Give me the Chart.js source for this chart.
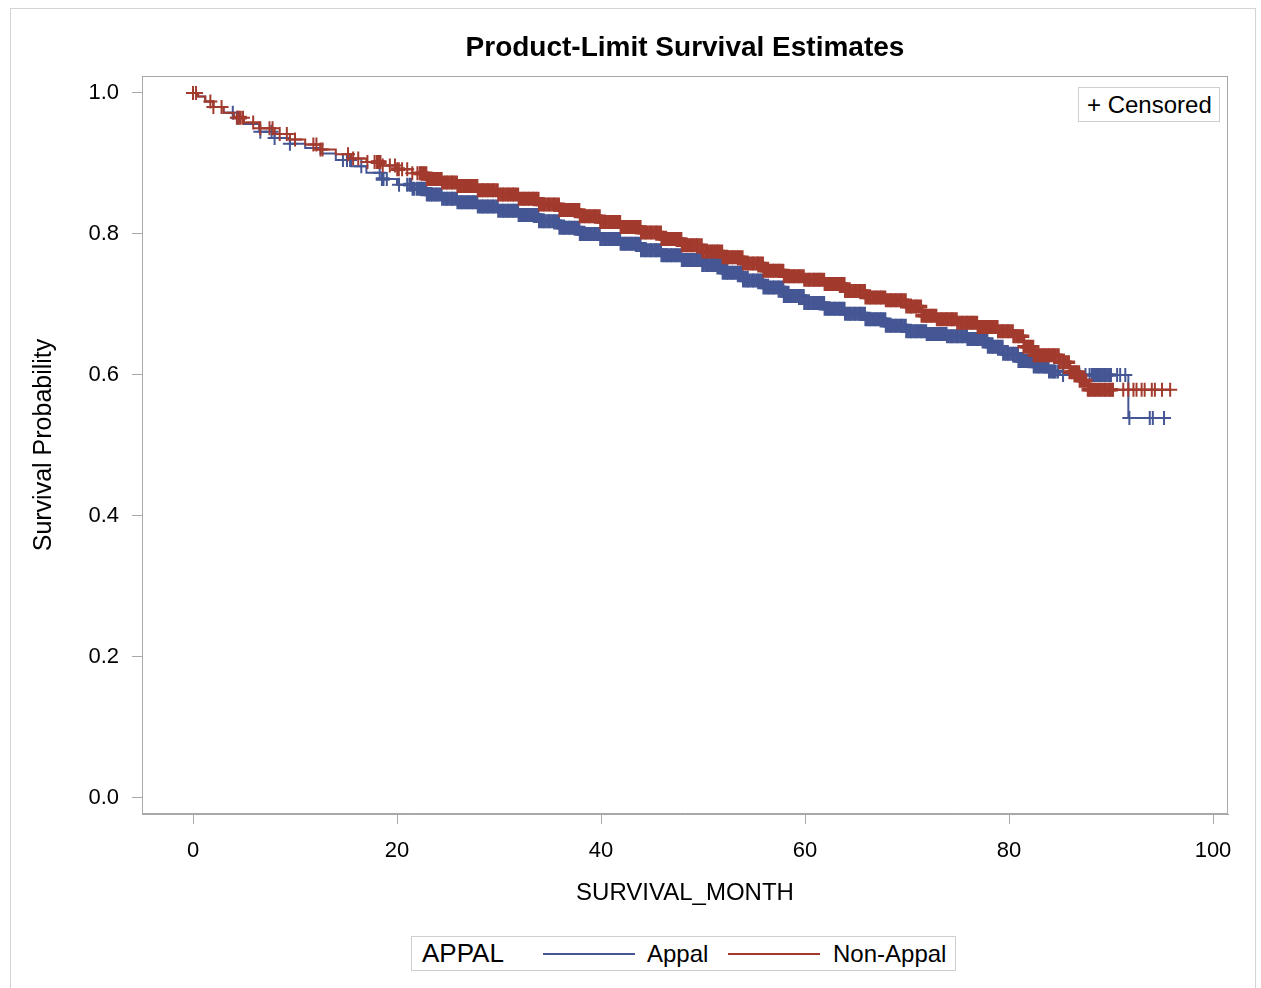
<!DOCTYPE html>
<html><head><meta charset="utf-8">
<script src="https://cdn.jsdelivr.net/npm/chart.js@4.4.1/dist/chart.umd.min.js"></script>
<style>
html,body{margin:0;padding:0;background:#fff;}
#wrap{position:relative;width:1261px;height:988px;overflow:hidden;font-family:"Liberation Sans",Arial,sans-serif;color:#000;}
#frame{position:absolute;left:10px;top:8px;width:1246px;height:1000px;border:1px solid #d4d4d4;box-sizing:border-box;}
canvas{position:absolute;left:0;top:0;}
#title{position:absolute;left:385px;width:600px;top:30px;text-align:center;font-weight:bold;font-size:28px;line-height:34px;}
.box{position:absolute;background:#fff;border:1px solid #cfcfcf;box-sizing:border-box;white-space:nowrap;}
#cens{left:1078px;top:87px;width:142px;height:35px;font-size:24px;line-height:33px;padding-left:8px;}
#leg{left:411px;top:936px;width:545px;height:35px;font-size:24px;line-height:33px;}
.li{position:absolute;top:0;}
.ln{position:absolute;top:16px;height:2px;}
</style></head><body>
<div id="wrap">
<div id="frame"></div>
<canvas id="c" width="1261" height="988"></canvas>
<div id="title">Product-Limit Survival Estimates</div>
<div class="box" id="cens">+ Censored</div>
<div class="box" id="leg"><span class="li" style="left:10px;font-size:26px">APPAL</span><span class="ln" style="left:131px;width:92px;background:#445694"></span><span class="li" style="left:235px">Appal</span><span class="ln" style="left:316px;width:92px;background:#a23a2e"></span><span class="li" style="left:421px">Non-Appal</span></div>
</div>
<script>
const xTicks=[0,20,40,60,80,100];
const yTicks=[0,0.2,0.4,0.6,0.8,1.0];

const appalTime=[0,0.5,1.2,2.0,3.0,4.0,5.0,6.5,8.0,9.5,11.0,12.5,14.0,15.5,17.0,18.5,20.0,21.5,23.0,24.5,26.0,28.0,30.0,32.0,34.0,36.0,38.0,40.0,42.0,44.0,46.0,48.0,50.0,52.0,54.0,56.0,58.0,60.0,62.0,64.0,66.0,68.0,70.0,72.0,74.0,76.0,78.0,79.5,81.0,82.5,84.0,85.0,91.7,95.2];
const appalSurv=[1.0,0.995,0.988,0.980,0.972,0.965,0.956,0.945,0.936,0.928,0.922,0.914,0.905,0.896,0.887,0.878,0.870,0.864,0.856,0.850,0.845,0.839,0.833,0.827,0.818,0.809,0.800,0.793,0.786,0.777,0.770,0.763,0.756,0.745,0.734,0.724,0.712,0.702,0.694,0.687,0.679,0.670,0.662,0.658,0.655,0.651,0.640,0.630,0.620,0.612,0.605,0.600,0.539,0.539];

const nonAppalTime=[0,0.5,1.2,2.0,3.0,4.0,5.0,6.5,8.0,9.5,11.0,12.5,14.0,15.5,17.0,18.5,20.0,21.5,23.0,24.5,26.0,28.0,30.0,32.0,34.0,36.0,38.0,40.0,42.0,44.0,46.0,48.0,50.0,52.0,54.0,56.0,58.0,60.0,62.0,64.0,66.0,68.0,70.0,71.5,73.0,75.0,77.0,79.0,80.5,81.5,82.5,85.0,86.0,87.0,87.8,95.8];
const nonAppalSurv=[1.0,0.995,0.988,0.980,0.972,0.965,0.958,0.950,0.942,0.934,0.927,0.920,0.913,0.907,0.902,0.897,0.892,0.886,0.878,0.873,0.868,0.862,0.856,0.850,0.842,0.834,0.825,0.817,0.810,0.802,0.793,0.784,0.775,0.767,0.758,0.748,0.740,0.735,0.729,0.719,0.710,0.706,0.697,0.684,0.679,0.674,0.668,0.662,0.655,0.640,0.628,0.618,0.604,0.592,0.579,0.579];

const appalCensored=[3.9,4.4,6.6,7.7,8.0,9.5,14.7,15.1,15.4,16.5,18.3,18.6,19.0,20.2,21.0,21.3,21.6,22.0,
22.3,22.5,22.8,23,23.3,23.5,23.8,24,24.3,24.5,24.8,25,25.3,25.5,25.8,26,26.3,26.5,26.8,27,27.3,27.5,27.8,28,28.3,28.5,28.8,29,29.3,29.5,29.8,
30,30.3,30.5,30.8,31,31.3,31.5,31.8,32,32.3,32.5,32.8,33,33.3,33.5,33.8,34,34.3,34.5,34.8,35,35.3,35.5,35.8,36,36.3,36.5,36.8,37,37.3,37.5,37.8,38,38.3,38.5,38.8,39,39.3,39.5,39.8,
40,40.3,40.5,40.8,41,41.3,41.5,41.8,42,42.3,42.5,42.8,43,43.3,43.5,43.8,44,44.3,44.5,44.8,45,45.3,45.5,45.8,46,46.3,46.5,46.8,47,47.3,47.5,47.8,48,48.3,48.5,48.8,49,49.3,49.5,49.8,
50,50.3,50.5,50.8,51,51.3,51.5,51.8,52,52.3,52.5,52.8,53,53.3,53.5,53.8,54,54.3,54.5,54.8,55,55.3,55.5,55.8,56,56.3,56.5,56.8,57,57.3,57.5,57.8,58,58.3,58.5,58.8,59,59.3,59.5,59.8,
60,60.3,60.5,60.8,61,61.3,61.5,61.8,62,62.3,62.5,62.8,63,63.3,63.5,63.8,64,64.3,64.5,64.8,65,65.3,65.5,65.8,66,66.3,66.5,66.8,67,67.3,67.5,67.8,68,68.3,68.5,68.8,69,69.3,69.5,69.8,
70,70.3,70.5,70.8,71,71.3,71.5,71.8,72,72.3,72.5,72.8,73,73.3,73.5,73.8,74,74.3,74.5,74.8,75,75.3,75.5,75.8,76,76.3,76.5,76.8,77,77.3,77.5,77.8,78,78.3,78.5,78.8,79,79.3,79.5,79.8,
80,80.3,80.5,80.8,81,81.3,81.5,81.8,82,82.3,82.5,82.8,83,83.3,83.5,83.8,84,84.3,84.5,84.8,
85.3,86.9,87.5,87.9,88.2,88.5,88.8,89.0,89.3,89.5,89.8,90.0,90.6,90.9,91.4,91.8,93.8,94.1,95.2];

const nonAppalCensored=[0.0,0.3,1.7,2.0,2.8,4.3,4.6,4.9,5.9,6.6,7.5,7.8,8.5,9.2,10.0,11.8,12.1,12.5,12.7,15.2,15.7,16.2,17.1,17.8,18.1,18.3,18.6,19.3,19.8,20.1,20.5,21.0,21.5,
22,22.3,22.5,22.8,23,23.3,23.5,23.8,24,24.3,24.5,24.8,25,25.3,25.5,25.8,26,26.3,26.5,26.8,27,27.3,27.5,27.8,28,28.3,28.5,28.8,29,29.3,29.5,29.8,
30,30.3,30.5,30.8,31,31.3,31.5,31.8,32,32.3,32.5,32.8,33,33.3,33.5,33.8,34,34.3,34.5,34.8,35,35.3,35.5,35.8,36,36.3,36.5,36.8,37,37.3,37.5,37.8,38,38.3,38.5,38.8,39,39.3,39.5,39.8,
40,40.3,40.5,40.8,41,41.3,41.5,41.8,42,42.3,42.5,42.8,43,43.3,43.5,43.8,44,44.3,44.5,44.8,45,45.3,45.5,45.8,46,46.3,46.5,46.8,47,47.3,47.5,47.8,48,48.3,48.5,48.8,49,49.3,49.5,49.8,
50,50.3,50.5,50.8,51,51.3,51.5,51.8,52,52.3,52.5,52.8,53,53.3,53.5,53.8,54,54.3,54.5,54.8,55,55.3,55.5,55.8,56,56.3,56.5,56.8,57,57.3,57.5,57.8,58,58.3,58.5,58.8,59,59.3,59.5,59.8,
60,60.3,60.5,60.8,61,61.3,61.5,61.8,62,62.3,62.5,62.8,63,63.3,63.5,63.8,64,64.3,64.5,64.8,65,65.3,65.5,65.8,66,66.3,66.5,66.8,67,67.3,67.5,67.8,68,68.3,68.5,68.8,69,69.3,69.5,69.8,
70,70.3,70.5,70.8,71,71.3,71.5,71.8,72,72.3,72.5,72.8,73,73.3,73.5,73.8,74,74.3,74.5,74.8,75,75.3,75.5,75.8,76,76.3,76.5,76.8,77,77.3,77.5,77.8,78,78.3,78.5,78.8,79,79.3,79.5,79.8,
80,80.3,80.5,80.8,81,81.3,81.5,81.8,82,82.3,82.5,82.8,83,83.3,83.5,83.8,84,84.3,84.5,84.8,85,85.3,85.5,85.8,86,86.3,86.5,86.8,87,87.3,87.5,87.8,
88,88.3,88.5,88.8,89,89.3,89.5,89.8,90,90.2,91.2,91.7,92.2,92.5,93.0,93.3,94.0,94.3,95.0,95.8];

const BLUE='#445694', RED='#a23a2e', AXIS='#a8a8a8';
const FONT='"Liberation Sans", Arial, sans-serif';

function survAt(T,S,t){let s=S[0];for(let i=0;i<T.length;i++){if(T[i]<=t)s=S[i];else break;}return s;}
const curve=(T,S)=>T.map((t,i)=>({x:t,y:S[i]}));
const marks=(C,T,S)=>C.map(t=>({x:t,y:survAt(T,S,t)}));
// thicker strokes where marks are packed together, so dense runs read as a solid band
function markWidth(c){const d=c.dataset.data,i=c.dataIndex,p=d[i-1],n=d[i+1],q=d[i];if(!q)return 2;
  const dense=(p&&q.x-p.x<0.4&&n&&n.x-q.x<0.4);return dense?3.6:2;}

const framePlugin={id:'plotFrame',afterDraw(chart){const {ctx,chartArea:a}=chart;ctx.save();ctx.strokeStyle=AXIS;ctx.lineWidth=1;ctx.strokeRect(Math.round(a.left)+0.5,Math.round(a.top)+0.5,Math.round(a.right-a.left)-1,Math.round(a.bottom-a.top)-1);ctx.restore();}};

Chart.defaults.font.family=FONT;
Chart.defaults.color='#000';

new Chart(document.getElementById('c'),{
  type:'scatter',
  data:{datasets:[
    {label:'Non-Appal censored',data:marks(nonAppalCensored,nonAppalTime,nonAppalSurv),showLine:false,pointStyle:'cross',pointRadius:7,pointBorderWidth:markWidth,borderColor:RED,backgroundColor:RED},
    {label:'Non-Appal',data:curve(nonAppalTime,nonAppalSurv),showLine:true,stepped:'before',pointRadius:0,borderWidth:2,borderColor:RED,fill:false},
    {label:'Appal censored',data:marks(appalCensored,appalTime,appalSurv),showLine:false,pointStyle:'cross',pointRadius:7,pointBorderWidth:markWidth,borderColor:BLUE,backgroundColor:BLUE},
    {label:'Appal',data:curve(appalTime,appalSurv),showLine:true,stepped:'before',pointRadius:0,borderWidth:2,borderColor:BLUE,fill:false}
  ]},
  options:{
    responsive:false,animation:false,events:[],
    layout:{padding:{left:10,right:33,top:76,bottom:74}},
    plugins:{legend:{display:false},tooltip:{enabled:false},title:{display:false}},
    scales:{
      x:{type:'linear',min:-5,max:101.47,
        afterBuildTicks:s=>{s.ticks=xTicks.map(v=>({value:v}));},
        afterFit:s=>{s.height=100;},
        grid:{drawOnChartArea:false,drawTicks:true,tickLength:10,color:AXIS},
        border:{display:true,color:AXIS},
        ticks:{font:{size:22},color:'#000',padding:14,maxRotation:0,autoSkip:false,callback:v=>String(v)},
        title:{display:true,text:'SURVIVAL_MONTH',font:{size:24},color:'#000',padding:{top:0,bottom:6.6}}},
      y:{type:'linear',min:-0.0227,max:1.0241,
        afterBuildTicks:s=>{s.ticks=yTicks.map(v=>({value:v}));},
        afterFit:s=>{s.width=132;},
        grid:{drawOnChartArea:false,drawTicks:true,tickLength:10,color:AXIS},
        border:{display:true,color:AXIS},
        ticks:{font:{size:22},color:'#000',padding:13,autoSkip:false,callback:v=>Number(v).toFixed(1)},
        title:{display:true,text:'Survival Probability',font:{size:25},color:'#000',padding:{top:19,bottom:0}}}
    }
  },
  plugins:[framePlugin]
});
</script>
</body></html>
